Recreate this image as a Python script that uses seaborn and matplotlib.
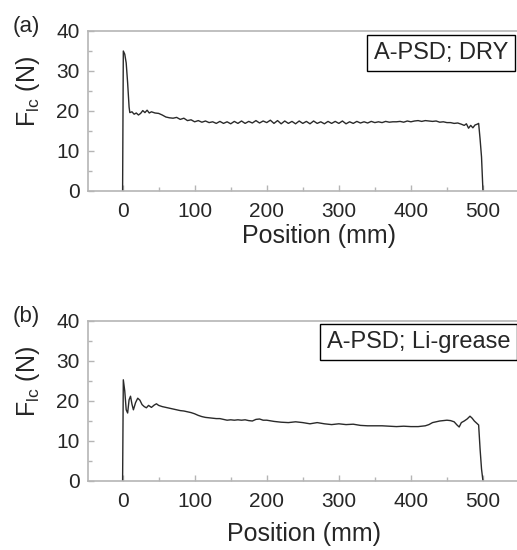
import matplotlib
matplotlib.use("Agg")
import matplotlib.pyplot as plt
import seaborn as sns
import pandas as pd
from matplotlib.ticker import MultipleLocator

# ── Data ──────────────────────────────────────────────────────────────────────
dry_pos = [0, 1, 3, 5, 7, 9, 10, 13, 16, 19, 22, 25, 28, 31, 34, 37, 40, 45, 50,
           55, 60, 65, 70, 75, 80, 85, 90, 95, 100, 105, 110, 115, 120, 125, 130,
           135, 140, 145, 150, 155, 160, 165, 170, 175, 180, 185, 190, 195, 200,
           205, 210, 215, 220, 225, 230, 235, 240, 245, 250, 255, 260, 265, 270,
           275, 280, 285, 290, 295, 300, 305, 310, 315, 320, 325, 330, 335, 340,
           345, 350, 355, 360, 365, 370, 375, 380, 385, 390, 395, 400, 405, 410,
           415, 420, 425, 430, 435, 440, 445, 450, 455, 460, 465, 470, 474, 477,
           480, 483, 486, 489, 492, 494, 496, 498, 500]
dry_force = [0, 35.0, 34.2, 32.0, 27.0, 21.0, 19.6, 19.8, 19.2, 19.5, 19.0, 19.4,
             20.1, 19.6, 20.2, 19.5, 19.8, 19.5, 19.4, 19.0, 18.5, 18.3, 18.2,
             18.4, 17.9, 18.2, 17.6, 17.8, 17.3, 17.6, 17.2, 17.5, 17.1, 17.3,
             16.9, 17.4, 16.9, 17.3, 16.8, 17.4, 16.9, 17.5, 16.9, 17.4, 17.0,
             17.6, 17.0, 17.5, 17.1, 17.7, 16.9, 17.6, 16.8, 17.5, 16.9, 17.4,
             16.8, 17.5, 16.9, 17.4, 16.8, 17.5, 16.9, 17.3, 16.8, 17.4, 16.9,
             17.4, 16.9, 17.5, 16.8, 17.3, 16.9, 17.4, 17.0, 17.3, 17.0, 17.4,
             17.1, 17.3, 17.1, 17.4, 17.2, 17.3, 17.3, 17.4, 17.2, 17.5, 17.3,
             17.5, 17.6, 17.4, 17.6, 17.5, 17.4, 17.5, 17.2, 17.3, 17.1, 17.1,
             16.9, 17.0, 16.7, 16.4, 16.8, 15.7, 16.4, 15.8, 16.5, 16.7, 16.9,
             13.0, 8.5, 0]

grease_pos = [0, 1, 3, 5, 7, 9, 11, 13, 15, 18, 21, 24, 27, 30, 33, 36, 40, 44,
              47, 50, 55, 60, 65, 70, 75, 80, 85, 90, 95, 100, 105, 110, 115, 120,
              125, 130, 135, 140, 145, 150, 155, 160, 165, 170, 175, 180, 185, 190,
              195, 200, 210, 220, 230, 240, 250, 260, 270, 280, 290, 300, 310, 320,
              330, 340, 350, 360, 370, 380, 390, 400, 410, 420, 425, 430, 435, 440,
              445, 450, 455, 460, 464, 467, 470, 474, 478, 482, 485, 488, 491, 494,
              496, 498, 500]
grease_force = [0, 25.3, 22.5, 17.8, 17.0, 20.3, 21.2, 19.2, 17.8, 19.6, 20.7,
                20.2, 19.1, 18.6, 18.3, 18.9, 18.4, 19.0, 19.3, 18.9, 18.6, 18.4,
                18.2, 18.0, 17.8, 17.6, 17.5, 17.3, 17.1, 16.8, 16.4, 16.1, 15.9,
                15.8, 15.7, 15.6, 15.6, 15.4, 15.2, 15.3, 15.2, 15.3, 15.2, 15.3,
                15.1, 15.0, 15.4, 15.5, 15.2, 15.2, 14.9, 14.7, 14.6, 14.8, 14.6,
                14.3, 14.6, 14.3, 14.1, 14.3, 14.1, 14.2, 13.9, 13.8, 13.8, 13.8,
                13.7, 13.6, 13.7, 13.6, 13.6, 13.8, 14.1, 14.6, 14.8, 15.0, 15.1,
                15.2, 15.1, 14.8, 14.0, 13.5, 14.6, 15.0, 15.5, 16.2, 15.7, 15.0,
                14.5, 14.0, 8.0, 3.0, 0]

# (tag, box label, x, y, xlabel centre x, xlabel pad, box text right, box y)
PANELS = [
    ("(a)", "A-PSD; DRY", dry_pos, dry_force, 0.537, 2, 0.975, 0.865),
    ("(b)", "A-PSD; Li-grease", grease_pos, grease_force, 0.502, 8, 0.980, 0.870),
]

# ── Style ─────────────────────────────────────────────────────────────────────
sns.set_style("ticks")
plt.rcParams["font.family"] = ["Liberation Sans", "DejaVu Sans"]
plt.rcParams["mathtext.fontset"] = "custom"
plt.rcParams["mathtext.rm"] = "Liberation Sans"

SPINE = "#b5b5b5"
fig = plt.figure(figsize=(5.17, 5.5), dpi=100)

# axes boxes in figure fractions: [left, bottom, width, height]
boxes = [
    [88 / 517, (550 - 191) / 550, 431 / 517, 160 / 550],
    [88 / 517, (550 - 481) / 550, 431 / 517, 160 / 550],
]

for (tag, label, pos, force, xlab_x, xlab_pad, box_x, box_y), box in zip(PANELS, boxes):
    ax = fig.add_axes(box)
    df = pd.DataFrame({"pos": pos, "force": force})
    sns.lineplot(data=df, x="pos", y="force", ax=ax, color="#2a2a2a",
                 linewidth=1.0, estimator=None, sort=False)
    ax.set_xlim(-48, 550)
    ax.set_ylim(0, 40)
    ax.set_xticks([0, 100, 200, 300, 400, 500])
    ax.set_yticks([0, 10, 20, 30, 40])
    ax.xaxis.set_minor_locator(MultipleLocator(50))
    ax.yaxis.set_minor_locator(MultipleLocator(5))
    ax.tick_params(which="both", direction="in", color=SPINE, labelsize=15,
                   top=False, right=False)
    ax.tick_params(which="major", length=4, width=1)
    ax.tick_params(axis="x", which="major", pad=8)
    ax.tick_params(axis="y", which="major", pad=6)
    ax.tick_params(which="minor", length=3, width=1)
    for side in ["top", "right", "left", "bottom"]:
        ax.spines[side].set_visible(True)
        ax.spines[side].set_color(SPINE)
        ax.spines[side].set_linewidth(1.2)
    ax.set_xlabel("Position (mm)", fontsize=18, labelpad=xlab_pad)
    ax.xaxis.label.set_x(xlab_x)
    ax.set_ylabel(r"F$_{\mathregular{lc}}$ (N)", fontsize=18, labelpad=10)
    ax.yaxis.label.set_y(0.62)
    ax.text(-0.175, 1.03, tag, transform=ax.transAxes, fontsize=16,
            ha="left", va="center")
    ax.text(box_x, box_y, label, transform=ax.transAxes, fontsize=17,
            ha="right", va="center",
            bbox=dict(boxstyle="square,pad=0.3", fc="white", ec="black", lw=1.0))

fig.savefig("out.png", dpi=100)
plt.close(fig)
